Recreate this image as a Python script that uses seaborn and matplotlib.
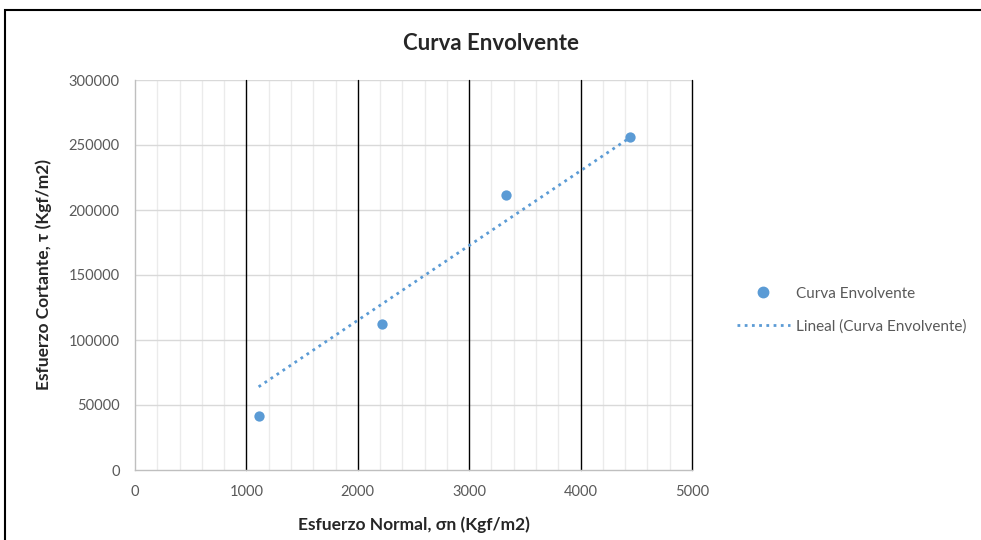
import numpy as np
import pandas as pd
import matplotlib
matplotlib.use("Agg")
import matplotlib.pyplot as plt
import seaborn as sns
from matplotlib.patches import Rectangle
from matplotlib.lines import Line2D

# Data
sigma_n = [1110, 2220, 3330, 4440]
tau = [41350, 112200, 211900, 256300]
trend_x = [1110, 4440]
trend_y = [64000, 255500]

x_ticks = [0, 1000, 2000, 3000, 4000, 5000]
y_ticks = [0, 50000, 100000, 150000, 200000, 250000, 300000]

blue = "#5B9BD5"
tick_grey = "#595959"

sns.set_style("white")
plt.rcParams['font.family'] = ['Lato', 'DejaVu Sans']

fig = plt.figure(figsize=(9.81, 5.4), dpi=100)
# Outer chart frame (runs past the right and bottom edges)
fig.patches.append(Rectangle((5 / 981, -0.1), 1.2, 1.1 - 10 / 540,
                             transform=fig.transFigure, fill=False,
                             edgecolor="black", linewidth=1.5))

ax = fig.add_axes([135 / 981, 70 / 540, 557 / 981, 390 / 540])

points = pd.DataFrame({'x': sigma_n, 'y': tau})
trend = pd.DataFrame({'x': trend_x, 'y': trend_y})

# Grid: minor verticals every 200, black majors every 1000, grey horizontals
for xv in np.arange(200, 5000, 200):
    if xv % 1000 != 0:
        ax.axvline(xv, color="#ebebeb", linewidth=1, zorder=0)
for yv in y_ticks[1:]:
    ax.axhline(yv, color="#d9d9d9", linewidth=1, zorder=0)
for xv in x_ticks[1:]:
    ax.axvline(xv, color="black", linewidth=1, zorder=1, clip_on=False)

sns.lineplot(data=trend, x='x', y='y', ax=ax, color=blue, linestyle=(0, (1, 1.6)),
             linewidth=2, zorder=3)
sns.scatterplot(data=points, x='x', y='y', ax=ax, color=blue, s=55, edgecolor=blue,
                linewidth=0, zorder=4)

ax.set_xlim(0, 5000)
ax.set_ylim(0, 300000)
ax.set_xticks(x_ticks)
ax.set_yticks(y_ticks)
ax.tick_params(axis='both', length=0, labelsize=10.5, labelcolor=tick_grey)
ax.tick_params(axis='x', pad=11)
ax.tick_params(axis='y', pad=11)
for side in ['top', 'right']:
    ax.spines[side].set_visible(False)
for side in ['left', 'bottom']:
    ax.spines[side].set_color("#bfbfbf")
    ax.spines[side].set_linewidth(1)

ax.set_xlabel("Esfuerzo Normal, σn (Kgf/m2)", fontsize=12.5, fontweight='bold', labelpad=12)
ax.set_ylabel("Esfuerzo Cortante, τ (Kgf/m2)", fontsize=12.5, fontweight='bold', labelpad=12)

fig.text(491 / 981, 1 - 44 / 540, "Curva Envolvente", ha='center', va='center',
         fontsize=16, fontweight='bold')

handles = [
    Line2D([], [], marker='o', color=blue, linestyle='none', markersize=7.5),
    Line2D([], [], color=blue, linestyle=(0, (1, 1.6)), linewidth=2),
]
fig.legend(handles, ["Curva Envolvente", "Lineal (Curva Envolvente)"],
           loc='center left', bbox_to_anchor=(723 / 981, 1 - 310 / 540), frameon=False,
           fontsize=11, labelcolor=tick_grey, handlelength=3.5, handletextpad=0.4,
           labelspacing=1.2)

fig.savefig("out.png", dpi=100)
